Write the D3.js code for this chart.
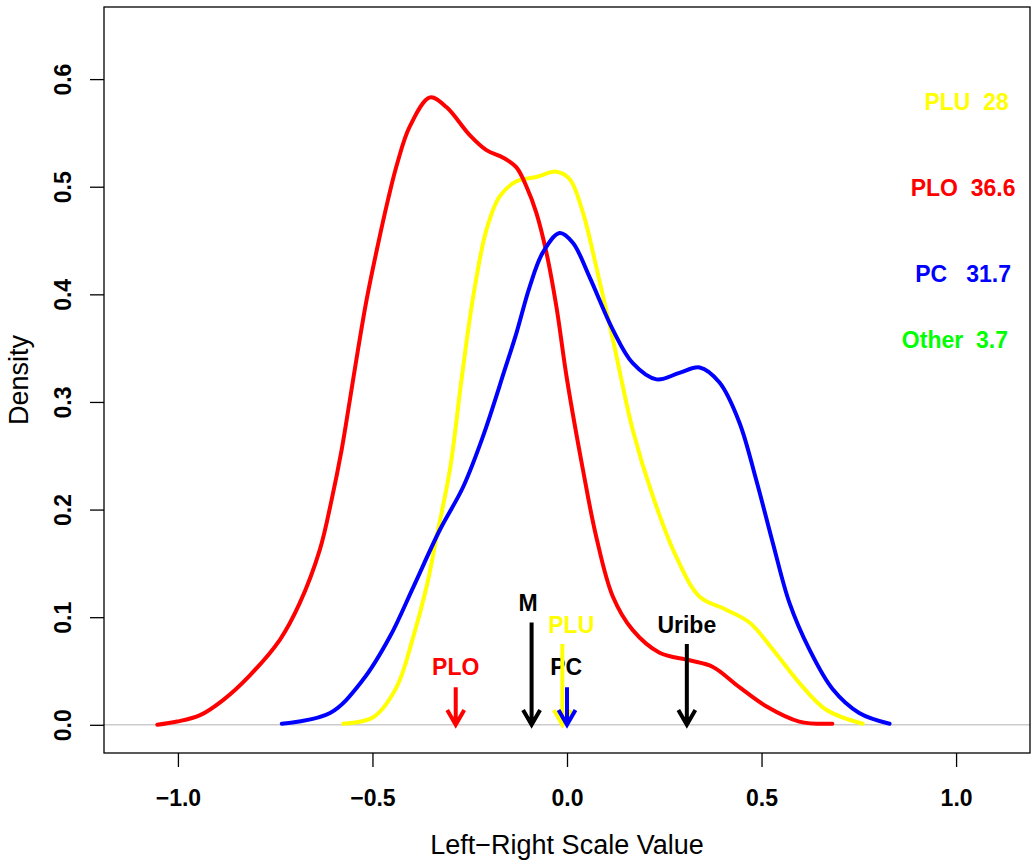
<!DOCTYPE html>
<html>
<head>
<meta charset="utf-8">
<script src="https://cdn.jsdelivr.net/npm/d3@7.9.0/dist/d3.min.js"></script>
<style>
  body { margin: 0; background: #fff; }
  svg { display: block; font-family: "Liberation Sans", Arial, sans-serif; }
  .pre { white-space: pre; }
</style>
</head>
<body>
<svg id="chart" width="1032" height="861"></svg>
<script>
// density curves
const ploX = [-1.053, -1.002, -0.943, -0.884, -0.815, -0.738, -0.687, -0.635, -0.605, -0.579, -0.558, -0.537, -0.515, -0.489, -0.460, -0.436, -0.404, -0.352, -0.310, -0.250, -0.207, -0.164, -0.130, -0.104, -0.079, -0.053, -0.027, 0.000, 0.041, 0.075, 0.118, 0.169, 0.238, 0.315, 0.374, 0.443, 0.513, 0.597, 0.682];
const ploY = [0.000, 0.003, 0.009, 0.023, 0.046, 0.079, 0.113, 0.163, 0.209, 0.256, 0.302, 0.349, 0.395, 0.441, 0.488, 0.522, 0.556, 0.583, 0.574, 0.548, 0.534, 0.527, 0.518, 0.500, 0.476, 0.439, 0.388, 0.321, 0.237, 0.175, 0.119, 0.088, 0.067, 0.060, 0.054, 0.035, 0.017, 0.003, 0.001];

const pluX = [-0.575, -0.498, -0.438, -0.395, -0.361, -0.335, -0.301, -0.271, -0.241, -0.207, -0.173, -0.130, -0.079, -0.027, 0.007, 0.041, 0.075, 0.118, 0.169, 0.221, 0.281, 0.341, 0.409, 0.469, 0.529, 0.597, 0.666, 0.760];
const pluY = [0.001, 0.007, 0.035, 0.082, 0.128, 0.175, 0.237, 0.321, 0.398, 0.460, 0.491, 0.505, 0.509, 0.514, 0.507, 0.476, 0.426, 0.358, 0.274, 0.212, 0.156, 0.119, 0.107, 0.095, 0.070, 0.039, 0.014, 0.001];

const pcX = [-0.733, -0.609, -0.524, -0.455, -0.395, -0.327, -0.267, -0.216, -0.160, -0.130, -0.096, -0.062, -0.019, 0.015, 0.058, 0.118, 0.169, 0.230, 0.289, 0.341, 0.392, 0.443, 0.486, 0.529, 0.572, 0.623, 0.683, 0.751, 0.829];
const pcY = [0.001, 0.011, 0.042, 0.082, 0.128, 0.181, 0.221, 0.268, 0.330, 0.364, 0.407, 0.439, 0.457, 0.448, 0.416, 0.367, 0.336, 0.321, 0.327, 0.332, 0.318, 0.281, 0.228, 0.169, 0.113, 0.070, 0.033, 0.011, 0.001];

// arrows and their labels
const arrowNames = ["PLO", "M", "PLU", "PC", "Uribe"];
const arrowX = [-0.286, -0.091, -0.012, 0.000, 0.308];
const arrowTop = [0.035, 0.095, 0.075, 0.035, 0.075];
const arrowColors = ["#ff0000", "#000000", "#ffff00", "#0000ff", "#000000"];
const labelX = [-0.286, -0.100, 0.011, -0.002, 0.308];
const labelY = [0.054, 0.113, 0.093, 0.054, 0.093];
const labelColors = ["#ff0000", "#000000", "#ffff00", "#000000", "#000000"];

// vote shares at the right
const shareLabels = ["PLU  28", "PLO  36.6", "PC   31.7", "Other  3.7"];
const shareX = [1.027, 1.018, 1.018, 0.997];
const shareY = [0.579, 0.499, 0.419, 0.358];
const shareColors = ["#ffff00", "#ff0000", "#0000ff", "#00ff00"];

const xTicks = [-1.0, -0.5, 0.0, 0.5, 1.0];
const yTicks = [0.0, 0.1, 0.2, 0.3, 0.4, 0.5, 0.6];

const svg = d3.select('#chart');
const plotLeft = 104, plotRight = 1030, plotTop = 7, plotBottom = 753;

let x = d3.scaleLinear().domain([-1.19, 1.19]).range([plotLeft, plotRight]);
let y = d3.scaleLinear().domain([-0.0262, 0.667]).range([plotBottom, plotTop]);

// zero line
svg.append('line')
  .attr('x1', plotLeft).attr('x2', plotRight)
  .attr('y1', y(0)).attr('y2', y(0))
  .attr('stroke', '#cccccc').attr('stroke-width', 1.5);

// curves
let line = d3.line()
  .x(d => x(d[0]))
  .y(d => y(d[1]))
  .curve(d3.curveCatmullRom.alpha(0.5));

let series = [
  { xs: pluX, ys: pluY, color: '#ffff00' },
  { xs: ploX, ys: ploY, color: '#ff0000' },
  { xs: pcX, ys: pcY, color: '#0000ff' }
];
series.forEach(s => {
  svg.append('path')
    .attr('d', line(d3.zip(s.xs, s.ys)))
    .attr('fill', 'none')
    .attr('stroke', s.color)
    .attr('stroke-width', 4)
    .attr('stroke-linecap', 'round')
    .attr('stroke-linejoin', 'round');
});

// arrow labels
arrowNames.forEach((name, i) => {
  svg.append('text')
    .attr('x', x(labelX[i]))
    .attr('y', y(labelY[i]))
    .attr('dy', '0.36em')
    .attr('text-anchor', 'middle')
    .attr('font-size', 23)
    .attr('font-weight', 'bold')
    .attr('fill', labelColors[i])
    .text(name);
});

// arrows
const headLen = 17;
arrowNames.forEach((name, i) => {
  let ax = x(arrowX[i]), tip = y(0);
  let dx = headLen * Math.sin(Math.PI / 6), dy = headLen * Math.cos(Math.PI / 6);
  svg.append('path')
    .attr('d', `M${ax},${y(arrowTop[i])}L${ax},${tip}M${ax - dx},${tip - dy}L${ax},${tip}L${ax + dx},${tip - dy}`)
    .attr('fill', 'none')
    .attr('stroke', arrowColors[i])
    .attr('stroke-width', 4)
    .attr('stroke-linecap', 'butt');
});

// vote shares
shareLabels.forEach((t, i) => {
  svg.append('text')
    .attr('class', 'pre')
    .attr('x', x(shareX[i]))
    .attr('y', y(shareY[i]))
    .attr('dy', '0.36em')
    .attr('text-anchor', 'middle')
    .attr('font-size', 23)
    .attr('font-weight', 'bold')
    .attr('fill', shareColors[i])
    .text(t);
});

// axes
let xAxis = svg.append('g')
  .attr('transform', `translate(0,${plotBottom})`)
  .call(d3.axisBottom(x).tickValues(xTicks).tickSize(14).tickFormat(d3.format('.1f')));
xAxis.select('.domain').remove();
xAxis.selectAll('line').attr('stroke', '#000').attr('stroke-width', 1.3);
xAxis.selectAll('text')
  .attr('y', 36.5)
  .attr('font-size', 23)
  .attr('font-weight', 'bold')
  .attr('font-family', '"Liberation Sans", Arial, sans-serif')
  .attr('fill', '#000');

let yAxis = svg.append('g')
  .attr('transform', `translate(${plotLeft},0)`)
  .call(d3.axisLeft(y).tickValues(yTicks).tickSize(14).tickFormat(d3.format('.1f')));
yAxis.select('.domain').remove();
yAxis.selectAll('line').attr('stroke', '#000').attr('stroke-width', 1.3);
yAxis.selectAll('text')
  .attr('x', 0)
  .attr('y', -33.5)
  .attr('dy', 0)
  .attr('text-anchor', 'middle')
  .attr('transform', 'rotate(-90)')
  .attr('font-size', 23)
  .attr('font-weight', 'bold')
  .attr('font-family', '"Liberation Sans", Arial, sans-serif')
  .attr('fill', '#000');

// box
svg.append('rect')
  .attr('x', plotLeft).attr('y', plotTop)
  .attr('width', plotRight - plotLeft).attr('height', plotBottom - plotTop)
  .attr('fill', 'none')
  .attr('stroke', '#000')
  .attr('stroke-width', 1.3);

// axis titles
svg.append('text')
  .attr('x', (plotLeft + plotRight) / 2)
  .attr('y', 854)
  .attr('text-anchor', 'middle')
  .attr('font-size', 27)
  .text('Left\u2212Right Scale Value');

svg.append('text')
  .attr('transform', `translate(28,${(plotTop + plotBottom) / 2}) rotate(-90)`)
  .attr('text-anchor', 'middle')
  .attr('font-size', 27)
  .text('Density');
</script>
</body>
</html>
